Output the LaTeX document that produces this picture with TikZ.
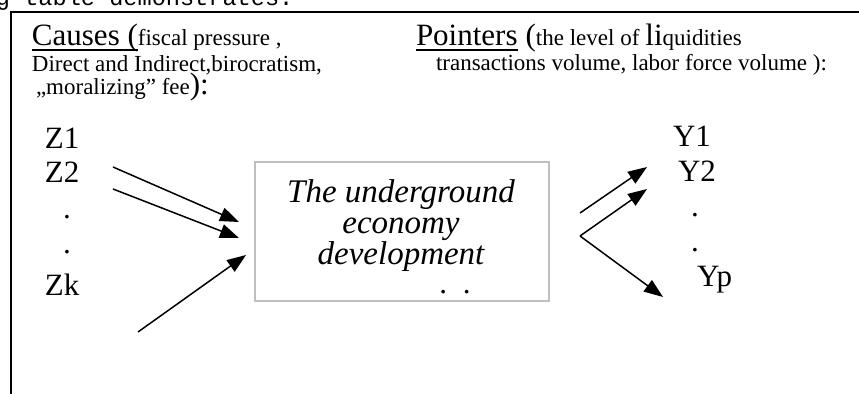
\documentclass[tikz,border=0pt]{standalone}
\usepackage{fontspec}
\setmainfont{Liberation Serif}
\newfontfamily\monof{Liberation Mono}
\usetikzlibrary{arrows.meta}
\newcommand\mybig{\fontsize{15.5pt}{15.5pt}\selectfont}
\newcommand\mysmall{\fontsize{11.5pt}{12pt}\selectfont}
\newcommand\myital{\itshape\fontsize{16.5pt}{15.6pt}\selectfont}
\begin{document}
\begin{tikzpicture}[x=0.5pt,y=-0.5pt,
  txt/.style={anchor=base west, inner sep=0pt, outer sep=0pt},
  big/.style={txt, font=\mybig},
  small/.style={txt, font=\mysmall},
  arr/.style={line width=0.75pt, -{Triangle[length=9.5pt,width=7pt]}},
  frameline/.style={line width=1pt},
  uline/.style={line width=0.6pt},
  econbox/.style={draw=black!25, line width=1pt, minimum width=147pt, minimum height=69.5pt,
    inner sep=0pt},
  econtext/.style={anchor=base, inner sep=0pt, align=center, font=\myital}]
\useasboundingbox (0,0) rectangle (859,394);
\begin{scope}
  \clip (0,0) rectangle (859,394);
  \node[txt, font=\monof\fontsize{11.8pt}{12pt}\selectfont] (top) at (-4,6) {g table demonstrates:};
\end{scope}
% frame
\coordinate (fbl) at (11,394);
\coordinate (ftl) at (11,12);
\coordinate (ftr) at (859,12);
\draw[frameline] (fbl) -- (ftl) -- (ftr);
% causes
\node[big] (c1) at (32,46) {Causes (};
\node[small] (c2) at (c1.base east) {fiscal pressure ,};
\draw[uline] ([yshift=-2pt]c1.base west) -- ([yshift=-2pt]c1.base east);
\node[small] (c3) at (32,72) {Direct and Indirect,birocratism,};
\node[small] (c4) at (36,95) {„moralizing” fee};
\node[big] (c5) at (c4.base east) {):};
% pointers
\node[big] (p1) at (416,46) {Pointers};
\draw[uline] ([yshift=-2pt]p1.base west) -- ([yshift=-2pt]p1.base east);
\node[big] (p2) at ([xshift=4pt]p1.base east) {(};
\node[small] (p3) at (p2.base east) {the level of};
\node[big] (p4) at ([xshift=3pt]p3.base east) {li};
\node[small] (p5) at (p4.base east) {quidities};
\node[small] (p6) at (436,71) {transactions volume, labor force volume ):};
% Z labels
\node[big] (z1) at (45,149) {Z1};
\node[big] (z2) at (45,183) {Z2};
\node[big, anchor=base] (zd1) at (67,219) {.};
\node[big, anchor=base] (zd2) at (67,254) {.};
\node[big] (zk) at (45,296) {Zk};
% Y labels
\node[big] (y1) at (673,147) {Y1};
\node[big] (y2) at (678,182) {Y2};
\node[big, anchor=base] (yd1) at (695,217) {.};
\node[big, anchor=base] (yd2) at (695,252) {.};
\node[big] (yp) at (697,287) {Yp};
% central box
\node[econbox] (box) at (402,231.5) {};
\node[econtext] (boxtext) at (401,265) {The underground\\economy\\development};
\node[big, anchor=base] (bdots) at (455,294) {.\hspace{8pt}.};
% arrows in
\coordinate (a1s) at (113,167); \coordinate (a1e) at (239,222);
\coordinate (a2s) at (113,189); \coordinate (a2e) at (239,238);
\coordinate (a3s) at (138,332); \coordinate (a3e) at (246,255);
\draw[arr] (a1s) -- (a1e);
\draw[arr] (a2s) -- (a2e);
\draw[arr] (a3s) -- (a3e);
% arrows out
\coordinate (b1s) at (580,213); \coordinate (b1e) at (647,167);
\coordinate (b2s) at (580,236); \coordinate (b2e) at (647,189);
\coordinate (b3e) at (663,297);
\draw[arr] (b1s) -- (b1e);
\draw[arr] (b2s) -- (b2e);
\draw[arr] (b2s) -- (b3e);
\end{tikzpicture}
\end{document}
